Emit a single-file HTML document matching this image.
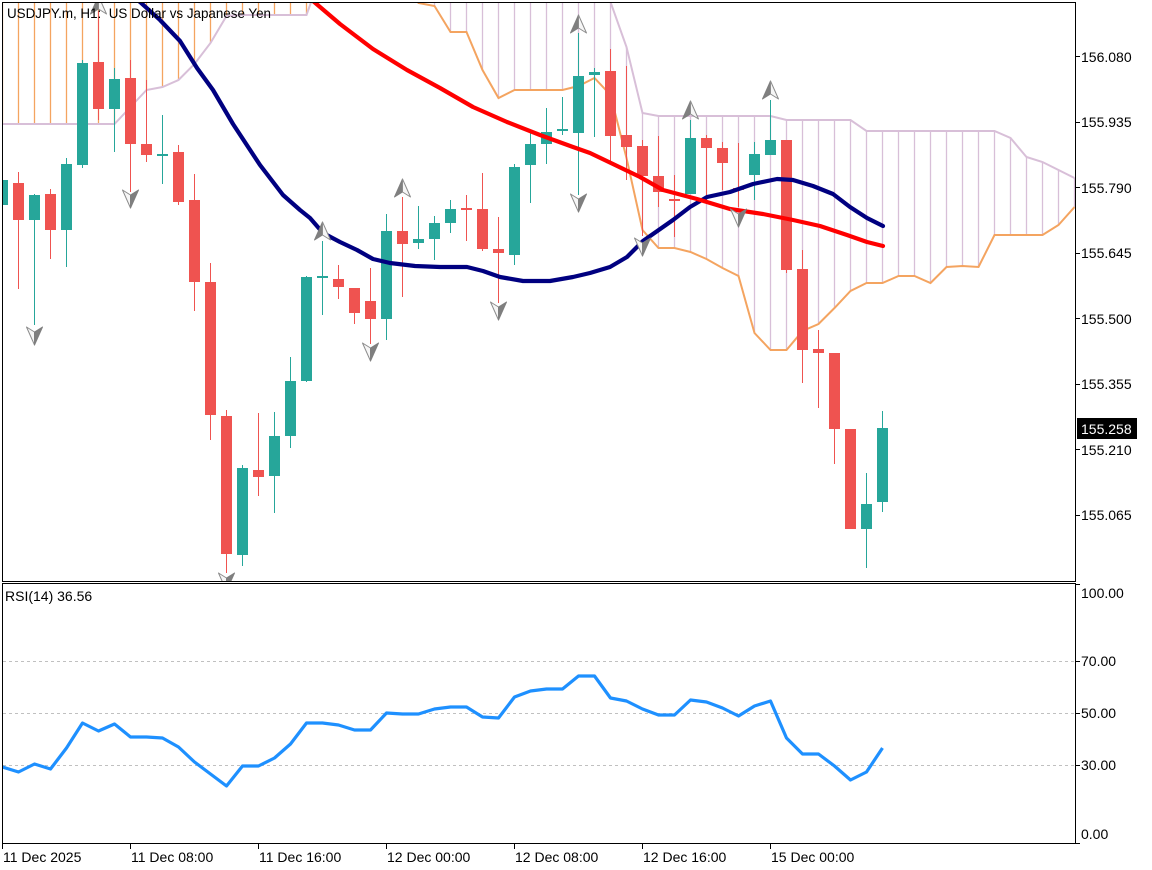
<!DOCTYPE html>
<html>
<head>
<meta charset="utf-8">
<style>
html,body{margin:0;padding:0;background:#fff;}
svg{display:block;}
text{font-family:"Liberation Sans","DejaVu Sans",sans-serif;fill:#000;}
</style>
</head>
<body>
<svg width="1152" height="870" viewBox="0 0 1152 870" xmlns="http://www.w3.org/2000/svg">
<defs>
<clipPath id="mc"><rect x="3" y="3" width="1072" height="578"/></clipPath>
<clipPath id="rc"><rect x="3" y="584" width="1072" height="259"/></clipPath>
</defs>
<rect width="1152" height="870" fill="#fff"/>

<g clip-path="url(#mc)">
<!-- cloud hatch: orange -->
<g stroke="#f4a460" stroke-width="1.3">
<path d="M2.5 2V124M18.5 2V124M34.5 2V124M50.5 2V124M66.5 2V124M82.5 2V124M98.5 2V124M114.5 2V124M130.5 2V107M146.5 2V90M162.5 2V87M178.5 2V80M194.5 2V64M210.5 2V43M226.5 2V16M242.5 2V15M258.5 2V15M274.5 2V15M290.5 2V15M306.5 2V15"/>
</g>
<!-- cloud hatch: lavender -->
<g stroke="#d8bfd8" stroke-width="1.3">
<path d="M434.5 2V6M450.5 2V32M466.5 2V32M482.5 2V70M498.5 2V98M514.5 2V90M530.5 2V90M546.5 2V90M562.5 2V90M578.5 2V86M594.5 2V78M610.5 2V95M626.5 47V158M642.5 113V230M658.5 116V248M674.5 116V248M690.5 116V252M706.5 116V259M722.5 116V268M738.5 116V276M754.5 116V333M770.5 116V350M786.5 120V350M802.5 120V331M818.5 120V324M834.5 120V308M850.5 120V291M866.5 131V283M882.5 131V283M898.5 131V276M914.5 131V276M930.5 131V283M946.5 131V267M962.5 131V266M978.5 131V267M994.5 131V235M1010.5 138V235M1026.5 157V235M1042.5 162V235M1058.5 170V225M1074.5 178V207"/>
</g>
<!-- cloud span lines -->
<polyline fill="none" stroke="#f4a460" stroke-width="2" points="386.5,-30 402.5,-30 418.5,3 434.5,6 450.5,32 466.5,32 482.5,70 498.5,98 514.5,90 530.5,90 546.5,90 562.5,90 578.5,86 594.5,78 610.5,95 626.5,158 642.5,230 658.5,248 674.5,248 690.5,252 706.5,259 722.5,268 738.5,276 754.5,333 770.5,350 786.5,350 802.5,331 818.5,324 834.5,308 850.5,291 866.5,283 882.5,283 898.5,276 914.5,276 930.5,283 946.5,267 962.5,266 978.5,267 994.5,235 1010.5,235 1026.5,235 1042.5,235 1058.5,225 1074.5,207"/>
<polyline fill="none" stroke="#d8bfd8" stroke-width="2" points="0,124 114.5,124 130.5,107 146.5,90 162.5,87 178.5,80 194.5,64 210.5,43 226.5,16 242.5,15 306.5,15 322.5,-30 594.5,-30 610.5,2 626.5,47 642.5,113 658.5,116 770.5,116 786.5,120 850.5,120 866.5,131 994.5,131 1010.5,138 1026.5,157 1042.5,162 1058.5,170 1074.5,178"/>

<!-- red candles -->
<g fill="#ef5350" stroke="none">
<path stroke="#ef5350" stroke-width="1" d="M18.5 172V289M50.5 189V259M98.5 11V120M130.5 60V192M146.5 80V162M178.5 145V205M194.5 174V311M210.5 263V440M226.5 410V573M258.5 413V496M338.5 265V299M354.5 288V324M370.5 268V344M402.5 197V297M466.5 195V241M482.5 173V251M498.5 217V303M610.5 49V162M626.5 66V180M642.5 140V236M658.5 136V207M674.5 175V237M706.5 135V200M722.5 142V190M738.5 143V207M786.5 140V273M802.5 250V383M818.5 330V408M834.5 353V464M850.5 429V529"/>
<rect x="13" y="183" width="11" height="37"/>
<rect x="45" y="194" width="11" height="36"/>
<rect x="93" y="62" width="11" height="47"/>
<rect x="125" y="78" width="11" height="66"/>
<rect x="141" y="144" width="11" height="11"/>
<rect x="173" y="152" width="11" height="50"/>
<rect x="189" y="200" width="11" height="82"/>
<rect x="205" y="282" width="11" height="133"/>
<rect x="221" y="416" width="11" height="138"/>
<rect x="253" y="470" width="11" height="7"/>
<rect x="333" y="279" width="11" height="8"/>
<rect x="349" y="288" width="11" height="25"/>
<rect x="365" y="301" width="11" height="18"/>
<rect x="397" y="231" width="11" height="13"/>
<rect x="461" y="208" width="11" height="2"/>
<rect x="477" y="209" width="11" height="40"/>
<rect x="493" y="249" width="11" height="4"/>
<rect x="605" y="71" width="11" height="65"/>
<rect x="621" y="135" width="11" height="12"/>
<rect x="637" y="146" width="11" height="30"/>
<rect x="653" y="176" width="11" height="16"/>
<rect x="669" y="199" width="11" height="2"/>
<rect x="701" y="138" width="11" height="10"/>
<rect x="717" y="148" width="11" height="15"/>
<rect x="733" y="188" width="11" height="2"/>
<rect x="781" y="140" width="11" height="130"/>
<rect x="797" y="269" width="11" height="81"/>
<rect x="813" y="349" width="11" height="4"/>
<rect x="829" y="353" width="11" height="76"/>
<rect x="845" y="429" width="11" height="100"/>
</g>

<!-- green candles -->
<g fill="#26a69a" stroke="none">
<path stroke="#26a69a" stroke-width="1" d="M2.5 175V210M34.5 194V325M66.5 158V267M82.5 60V168M114.5 68V152M162.5 115V184M242.5 465V566M274.5 412V513M290.5 357V448M306.5 276V382M322.5 241V315M386.5 214V340M418.5 206V249M434.5 216V260M450.5 200V233M514.5 164V265M530.5 132V203M546.5 108V164M562.5 97V135M578.5 33V195M594.5 68V137M690.5 120V194M754.5 142V200M770.5 100V155M866.5 473V568M882.5 411V512"/>
<rect x="-3" y="180" width="11" height="25"/>
<rect x="29" y="195" width="11" height="25"/>
<rect x="61" y="164" width="11" height="66"/>
<rect x="77" y="63" width="11" height="102"/>
<rect x="109" y="79" width="11" height="30"/>
<rect x="157" y="154" width="11" height="2"/>
<rect x="237" y="468" width="11" height="87"/>
<rect x="269" y="436" width="11" height="40"/>
<rect x="285" y="381" width="11" height="55"/>
<rect x="301" y="277" width="11" height="104"/>
<rect x="317" y="276" width="11" height="2"/>
<rect x="381" y="231" width="11" height="88"/>
<rect x="413" y="239" width="11" height="4"/>
<rect x="429" y="223" width="11" height="16"/>
<rect x="445" y="209" width="11" height="14"/>
<rect x="509" y="167" width="11" height="88"/>
<rect x="525" y="144" width="11" height="21"/>
<rect x="541" y="132" width="11" height="12"/>
<rect x="557" y="129" width="11" height="2"/>
<rect x="573" y="76" width="11" height="57"/>
<rect x="589" y="72" width="11" height="3"/>
<rect x="685" y="138" width="11" height="56"/>
<rect x="749" y="154" width="11" height="21"/>
<rect x="765" y="140" width="11" height="15"/>
<rect x="861" y="504" width="11" height="25"/>
<rect x="877" y="428" width="11" height="74"/>
</g>

<!-- moving averages -->
<polyline fill="none" stroke="#000080" stroke-width="4.2" stroke-linejoin="round" stroke-linecap="round" points="135,-2 140,2 160,20 180,41 197,68 213,90 233,124 260,165 283,195 300,210 310,218 323,233 340,242 357,250 373,259 390,263 415,266 440,267 467,267 483,271 500,277 523,281 550,281 573,277 590,273 610,267 627,257 643,241 673,220 690,207 707,197 730,192 753,184 777,179 793,180 813,186 833,194 850,207 867,218 883,226"/>
<polyline fill="none" stroke="#ff0000" stroke-width="4.2" stroke-linejoin="round" stroke-linecap="round" points="308,-2 313,1 340,24 373,49 407,70 440,88 473,107 507,122 540,135 573,147 590,153 613,164 640,177 663,190 697,199 730,209 763,214 793,220 820,226 847,235 867,242 883,246"/>

<!-- fractal arrows: up -->
<g stroke-width="1" stroke-linejoin="round">
<polygon points="98.5,-4 90.5,14 98.5,9" fill="#7f7f7f" stroke="#7f7f7f"/><polygon points="98.5,-4 106.5,14 98.5,9" fill="#f6f6f6" stroke="#8c8c8c"/>
<polygon points="322.5,222 314.5,240 322.5,235" fill="#7f7f7f" stroke="#7f7f7f"/><polygon points="322.5,222 330.5,240 322.5,235" fill="#f6f6f6" stroke="#8c8c8c"/>
<polygon points="402.5,179 394.5,197 402.5,192" fill="#7f7f7f" stroke="#7f7f7f"/><polygon points="402.5,179 410.5,197 402.5,192" fill="#f6f6f6" stroke="#8c8c8c"/>
<polygon points="578.5,15 570.5,33 578.5,28" fill="#7f7f7f" stroke="#7f7f7f"/><polygon points="578.5,15 586.5,33 578.5,28" fill="#f6f6f6" stroke="#8c8c8c"/>
<polygon points="690.5,101 682.5,119 690.5,114" fill="#7f7f7f" stroke="#7f7f7f"/><polygon points="690.5,101 698.5,119 690.5,114" fill="#f6f6f6" stroke="#8c8c8c"/>
<polygon points="770.5,81 762.5,99 770.5,94" fill="#7f7f7f" stroke="#7f7f7f"/><polygon points="770.5,81 778.5,99 770.5,94" fill="#f6f6f6" stroke="#8c8c8c"/>
<!-- down -->
<polygon points="34.5,345 26.5,327 34.5,332" fill="#f6f6f6" stroke="#8c8c8c"/><polygon points="34.5,345 42.5,327 34.5,332" fill="#7f7f7f" stroke="#7f7f7f"/>
<polygon points="130.5,208 122.5,190 130.5,195" fill="#f6f6f6" stroke="#8c8c8c"/><polygon points="130.5,208 138.5,190 130.5,195" fill="#7f7f7f" stroke="#7f7f7f"/>
<polygon points="226.5,591 218.5,573 226.5,578" fill="#f6f6f6" stroke="#8c8c8c"/><polygon points="226.5,591 234.5,573 226.5,578" fill="#7f7f7f" stroke="#7f7f7f"/>
<polygon points="370.5,361 362.5,343 370.5,348" fill="#f6f6f6" stroke="#8c8c8c"/><polygon points="370.5,361 378.5,343 370.5,348" fill="#7f7f7f" stroke="#7f7f7f"/>
<polygon points="498.5,320 490.5,302 498.5,307" fill="#f6f6f6" stroke="#8c8c8c"/><polygon points="498.5,320 506.5,302 498.5,307" fill="#7f7f7f" stroke="#7f7f7f"/>
<polygon points="578.5,212 570.5,194 578.5,199" fill="#f6f6f6" stroke="#8c8c8c"/><polygon points="578.5,212 586.5,194 578.5,199" fill="#7f7f7f" stroke="#7f7f7f"/>
<polygon points="642.5,256 634.5,238 642.5,243" fill="#f6f6f6" stroke="#8c8c8c"/><polygon points="642.5,256 650.5,238 642.5,243" fill="#7f7f7f" stroke="#7f7f7f"/>
<polygon points="738.5,227 730.5,209 738.5,214" fill="#f6f6f6" stroke="#8c8c8c"/><polygon points="738.5,227 746.5,209 738.5,214" fill="#7f7f7f" stroke="#7f7f7f"/>
</g>
</g>

<!-- title -->
<text x="7" y="18" font-size="13.4" xml:space="preserve">USDJPY.m, H1:  US Dollar vs Japanese Yen</text>

<!-- panel borders -->
<rect x="2.5" y="2.5" width="1073" height="579" fill="none" stroke="#000" stroke-width="1"/>
<rect x="2.5" y="583.5" width="1073" height="260" fill="none" stroke="#000" stroke-width="1"/>

<!-- price axis -->
<g stroke="#000" stroke-width="1">
<path d="M1075 56.5H1080M1075 122.5H1080M1075 187.5H1080M1075 253.5H1080M1075 318.5H1080M1075 384.5H1080M1075 449.5H1080M1075 515.5H1080M1075 584.5H1080M1075 661.5H1080M1075 713.5H1080M1075 765.5H1080M1075 843.5H1080"/>
</g>
<g font-size="14">
<text x="1081" y="62">156.080</text>
<text x="1081" y="127">155.935</text>
<text x="1081" y="193">155.790</text>
<text x="1081" y="258">155.645</text>
<text x="1081" y="324">155.500</text>
<text x="1081" y="389">155.355</text>
<text x="1081" y="455">155.210</text>
<text x="1081" y="520">155.065</text>
</g>
<rect x="1077" y="418" width="60" height="21" fill="#000"/>
<text x="1081" y="434" font-size="14" style="fill:#fff">155.258</text>

<!-- RSI panel -->
<g stroke="#c0c0c0" stroke-width="1" stroke-dasharray="3,3">
<path d="M3 661.5H1075M3 713.5H1075M3 765.5H1075"/>
</g>
<g clip-path="url(#rc)">
<polyline fill="none" stroke="#1e90ff" stroke-width="3.2" stroke-linejoin="round" points="2.5,767 18.5,772 34.5,764 50.5,769 66.5,748 82.5,723 98.5,731 114.5,724 130.5,737 146.5,737 162.5,738 178.5,747 194.5,762 210.5,774 226.5,786 242.5,766 258.5,766 274.5,758 290.5,744 306.5,723 322.5,723 338.5,725 354.5,730 370.5,730 386.5,713 402.5,714 418.5,714 434.5,709 450.5,707 466.5,707 482.5,717 498.5,718 514.5,697 530.5,691 546.5,689 562.5,689 578.5,676 594.5,676 610.5,698 626.5,701 642.5,709 658.5,715 674.5,715 690.5,700 706.5,702 722.5,708 738.5,716 754.5,706 770.5,701 786.5,738 802.5,754 818.5,754 834.5,766 850.5,780 866.5,772 882.5,748"/>
</g>
<text x="5" y="601" font-size="14">RSI(14) 36.56</text>
<g font-size="14">
<text x="1081" y="598">100.00</text>
<text x="1081" y="666">70.00</text>
<text x="1081" y="718">50.00</text>
<text x="1081" y="770">30.00</text>
<text x="1081" y="839">0.00</text>
</g>

<!-- time axis -->
<g stroke="#000" stroke-width="1">
<path d="M2.5 843V849M130.5 843V849M258.5 843V849M386.5 843V849M514.5 843V849M642.5 843V849M770.5 843V849"/>
</g>
<g font-size="14">
<text x="3" y="862">11 Dec 2025</text>
<text x="131" y="862">11 Dec 08:00</text>
<text x="259" y="862">11 Dec 16:00</text>
<text x="387" y="862">12 Dec 00:00</text>
<text x="515" y="862">12 Dec 08:00</text>
<text x="643" y="862">12 Dec 16:00</text>
<text x="771" y="862">15 Dec 00:00</text>
</g>
</svg>
</body>
</html>
